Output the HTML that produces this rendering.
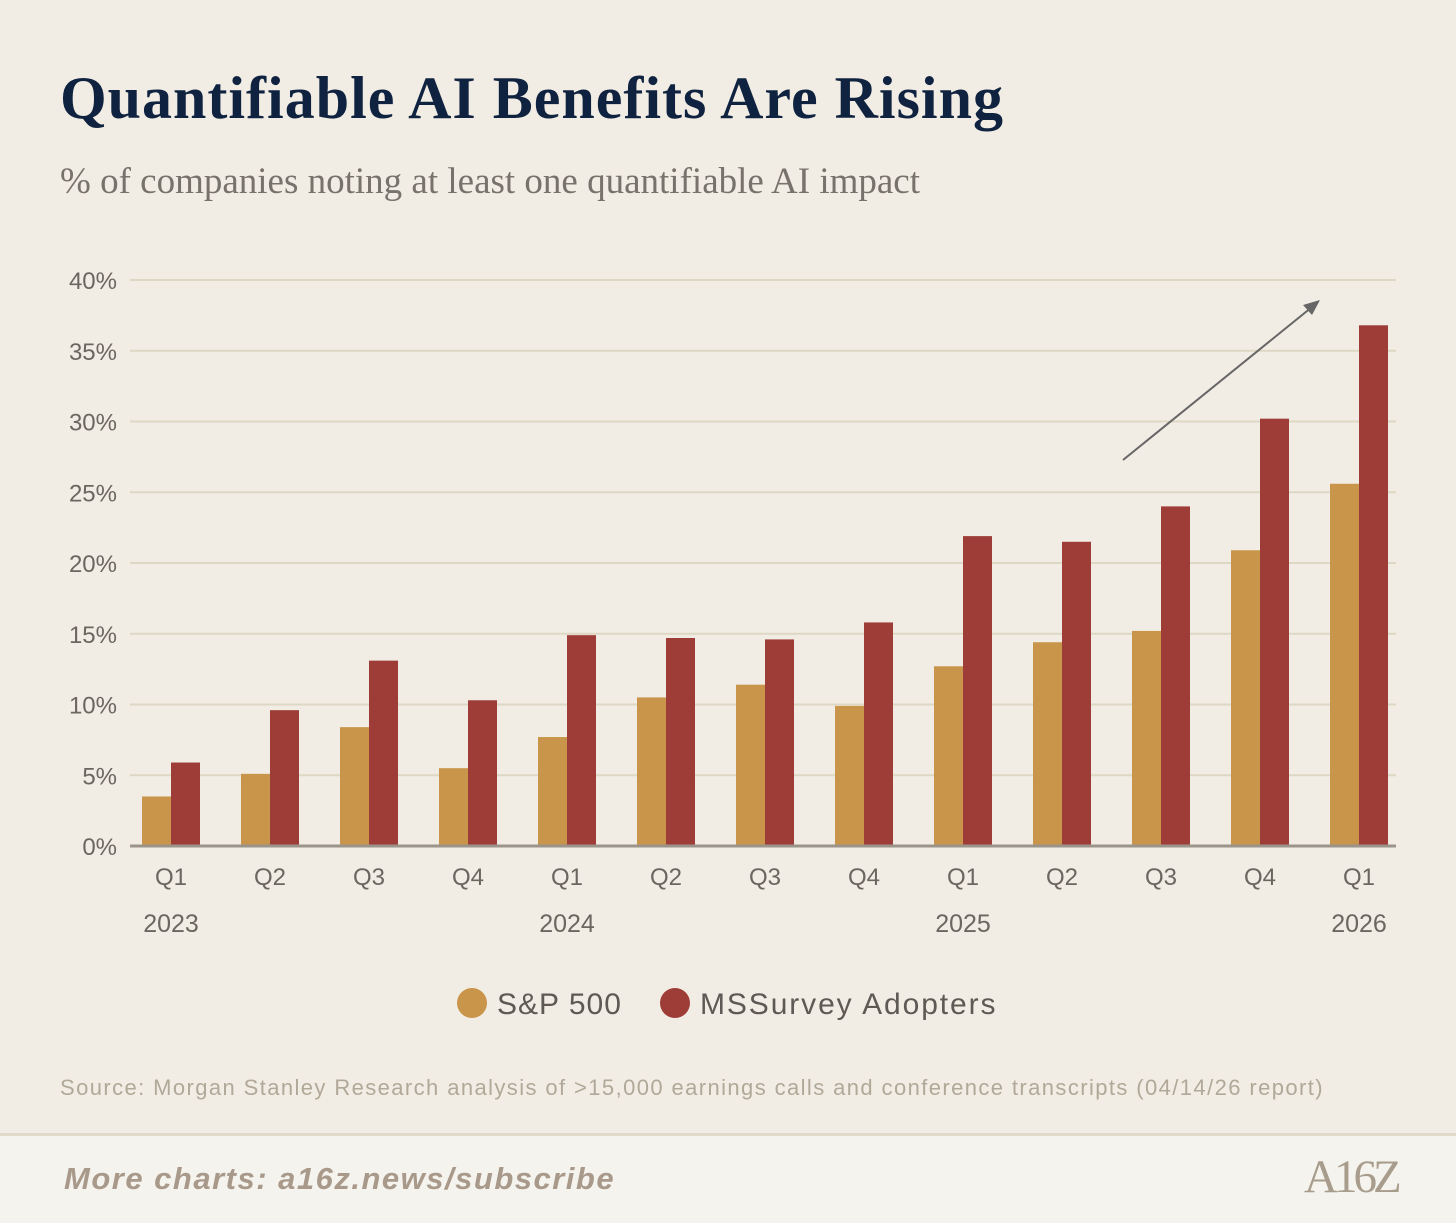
<!DOCTYPE html>
<html><head><meta charset="utf-8"><style>
body{margin:0;width:1456px;height:1220px;background:#f2ede4;position:relative;overflow:hidden;font-family:"Liberation Sans",sans-serif}
.t{position:absolute;white-space:nowrap}
</style></head><body>
<div class="t" style="left:60px;top:64px;font-family:'Liberation Serif',serif;font-weight:bold;font-size:60px;color:#0f2340;letter-spacing:1px">Quantifiable AI Benefits Are Rising</div>
<div class="t" style="left:60px;top:160px;font-family:'Liberation Serif',serif;font-size:37px;color:#77726b">% of companies noting at least one quantifiable AI impact</div>
<svg id="chart" width="1456" height="1060" style="position:absolute;left:0;top:0"></svg>
<div class="t" style="left:60px;top:1075px;font-size:22px;letter-spacing:1.4px;color:#b0a898">Source: Morgan Stanley Research analysis of &gt;15,000 earnings calls and conference transcripts (04/14/26 report)</div>
<div style="position:absolute;left:0;top:1133px;width:1456px;height:87px;background:#f5f3ee;border-top:3px solid #e0d8c8"></div>
<div class="t" style="left:64px;top:1161px;font-family:'Liberation Sans',sans-serif;font-style:italic;font-weight:bold;font-size:31px;letter-spacing:1.5px;color:#a8998a">More charts: a16z.news/subscribe</div>
<div class="t" style="left:1304px;top:1150px;font-family:'Liberation Serif',serif;font-size:47px;color:#a89d8c;letter-spacing:-4px">A16Z</div>
<script>
const categories=["Q1","Q2","Q3","Q4","Q1","Q2","Q3","Q4","Q1","Q2","Q3","Q4","Q1"];
const years=["2023","","","","2024","","","","2025","","","","2026"];
const sp500=[3.5,5.1,8.4,5.5,7.7,10.5,11.4,9.9,12.7,14.4,15.2,20.9,25.6];
const msSurvey=[5.9,9.6,13.1,10.3,14.9,14.7,14.6,15.8,21.9,21.5,24.0,30.2,36.8];
const yTicks=[0,5,10,15,20,25,30,35,40];
const svg=document.getElementById('chart');
const NS='http://www.w3.org/2000/svg';
const y0=846,y40=280,x0=171,step=99,bw=29;
const yS=v=>y0-(v/40)*(y0-y40);
const xS=i=>x0+i*step;
function mk(t,a){const e=document.createElementNS(NS,t);for(const k in a)e.setAttribute(k,a[k]);svg.appendChild(e);return e;}
yTicks.forEach(v=>{
  if(v>0){const g=mk('line',{x1:130,x2:1396,y1:yS(v),y2:yS(v),stroke:'#ddd7c3','stroke-width':2});
  
  }
  const t=mk('text',{x:117,y:yS(v)+9,'text-anchor':'end','font-size':24,fill:'#6b6660','font-family':'Liberation Sans'});
  t.textContent=v+'%';
  
  
});
categories.forEach((c,i)=>{
  const x=xS(i);
  const a=mk('rect',{x:x-bw,y:yS(sp500[i]),width:bw,height:y0-yS(sp500[i]),fill:'#c9954a'});
  
  
  const b=mk('rect',{x:x,y:yS(msSurvey[i]),width:bw,height:y0-yS(msSurvey[i]),fill:'#9e3d38'});
  
  
  const t=mk('text',{x:x,y:885,'text-anchor':'middle','font-size':24,fill:'#6b6660','font-family':'Liberation Sans'});
  t.textContent=c;
  
  
  if(years[i]){const yv=mk('text',{x:x,y:932,'text-anchor':'middle','font-size':25,fill:'#6b6660','font-family':'Liberation Sans'});
  yv.textContent=years[i];
  
  }
});
const ax=mk('line',{x1:130,x2:1396,y1:y0,y2:y0,stroke:'#9a948a','stroke-width':3});


const ar=mk('line',{x1:1123,y1:460,x2:1312,y2:307,stroke:'#666','stroke-width':2});


const ah=mk('polygon',{points:'1320,300 1303,305 1312,315',fill:'#666'});


const c1=mk('circle',{cx:472,cy:1003,r:15,fill:'#c9954a'});


const l1=mk('text',{x:497,y:1014,'font-size':30,'letter-spacing':1,fill:'#5e5955','font-family':'Liberation Sans'});
l1.textContent='S&P 500';


const c2=mk('circle',{cx:675,cy:1003,r:15,fill:'#9e3d38'});


const l2=mk('text',{x:700,y:1014,'font-size':30,'letter-spacing':1.9,fill:'#5e5955','font-family':'Liberation Sans'});
l2.textContent='MSSurvey Adopters';


</script>
</body></html>
